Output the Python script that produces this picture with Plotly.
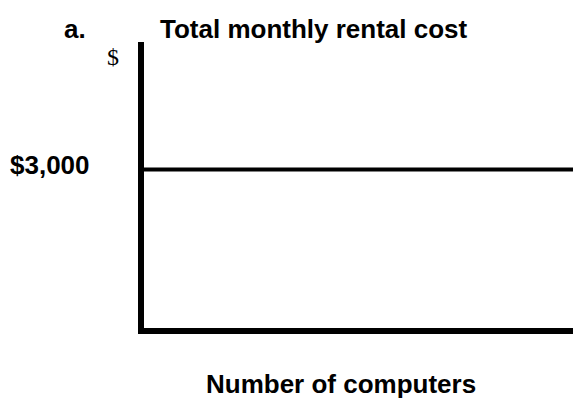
import plotly.graph_objects as go

computers = [0, 1, 2, 3, 4, 5]
rental_cost = [3000, 3000, 3000, 3000, 3000, 3000]
y_tick_vals = [3000]
y_tick_text = ["$3,000"]

W, H = 573, 400
L, R, T, B = 144, 0, 42, 72
pw, ph = W - L - R, H - T - B

def px(x):
    return (x - L) / pw

def py(y):
    return (H - B - y) / ph

fig = go.Figure()
fig.add_trace(go.Scatter(x=computers, y=rental_cost, mode="lines",
                         line=dict(color="black", width=4), hoverinfo="skip"))

bold = dict(family="Liberation Sans, Arial, sans-serif", size=26, color="black")
fig.update_layout(
    width=W, height=H, margin=dict(l=L, r=R, t=T, b=B),
    paper_bgcolor="white", plot_bgcolor="white", showlegend=False,
    xaxis=dict(range=[0, 4.77], showgrid=False, zeroline=False, showticklabels=False,
               ticks="", showline=True, linecolor="black", linewidth=6),
    yaxis=dict(range=[0, 5413], showgrid=False, zeroline=False, showticklabels=False,
               ticks="", showline=True, linecolor="black", linewidth=6),
    annotations=[
        dict(text="<b>a.</b>", x=px(62), y=py(29), xref="paper", yref="paper",
             xanchor="left", yanchor="middle", showarrow=False, font=bold),
        dict(text="<b>Total monthly rental cost</b>", x=px(158), y=py(29), xref="paper", yref="paper",
             xanchor="left", yanchor="middle", showarrow=False, font=bold),
        dict(text="$", x=px(113), y=py(57), xref="paper", yref="paper",
             xanchor="center", yanchor="middle", showarrow=False,
             font=dict(family="Liberation Serif, Times New Roman, serif", size=24, color="black")),
        dict(text="<b>" + y_tick_text[0] + "</b>", x=px(8), y=py(165), xref="paper", yref="paper",
             xanchor="left", yanchor="middle", showarrow=False, font=bold),
        dict(text="<b>Number of computers</b>", x=px(341), y=py(384), xref="paper", yref="paper",
             xanchor="center", yanchor="middle", showarrow=False, font=bold),
    ],
)
fig.write_html("out.html", post_script="document.body.style.margin='0';",
               config={"displayModeBar": False})
